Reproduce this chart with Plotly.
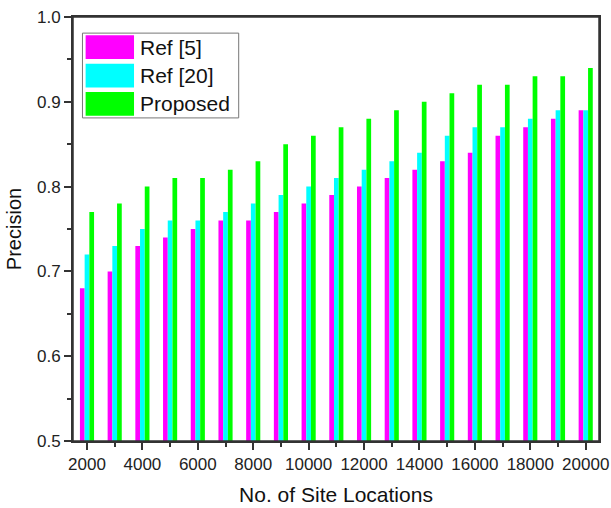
import plotly.graph_objects as go

sites = [2000, 3000, 4000, 5000, 6000, 7000, 8000, 9000, 10000, 11000,
         12000, 13000, 14000, 15000, 16000, 17000, 18000, 19000, 20000]
ref5 = [0.68, 0.70, 0.73, 0.74, 0.75, 0.76, 0.76, 0.77, 0.78, 0.79,
        0.80, 0.81, 0.82, 0.83, 0.84, 0.86, 0.87, 0.88, 0.89]
ref20 = [0.72, 0.73, 0.75, 0.76, 0.76, 0.77, 0.78, 0.79, 0.80, 0.81,
         0.82, 0.83, 0.84, 0.86, 0.87, 0.87, 0.88, 0.89, 0.89]
proposed = [0.77, 0.78, 0.80, 0.81, 0.81, 0.82, 0.83, 0.85, 0.86, 0.87,
            0.88, 0.89, 0.90, 0.91, 0.92, 0.92, 0.93, 0.93, 0.94]
series_names = ["Ref [5]", "Ref [20]", "Proposed"]
colors = ["#FF00FF", "#00FFFF", "#00FF00"]

fig = go.Figure()
for name, vals, c in zip(series_names, [ref5, ref20, proposed], colors):
    fig.add_trace(go.Bar(x=sites, y=vals, name=name, marker_color=c,
                         marker_line_width=0, showlegend=False))

font = "Arial, Liberation Sans, sans-serif"
axis_common = dict(showline=True, linecolor="#333333", linewidth=2, mirror=True,
                   ticks="outside", tickcolor="#333333", showgrid=False, zeroline=False,
                   automargin=False, layer="above traces",
                   tickfont=dict(family=font, size=17, color="#222222"))

fig.update_layout(
    width=611, height=508,
    paper_bgcolor="white", plot_bgcolor="white",
    margin=dict(l=73, r=12, t=17, b=67),
    barmode="group", bargap=0.49, bargroupgap=0,
    font=dict(family=font, color="#222222"),
    xaxis=dict(range=[1495, 20480], tickmode="linear", tick0=2000, dtick=2000,
               tickformat="d", ticklen=7, tickwidth=1.5,
               minor=dict(ticks="outside", dtick=1000, tick0=1000, ticklen=4,
                          tickwidth=1.5, tickcolor="#333333"),
               title=dict(text="No. of Site Locations", font=dict(family=font, size=21, color="#111111"),
                          standoff=14),
               **axis_common),
    yaxis=dict(range=[0.5, 1.0], tickmode="linear", tick0=0.5, dtick=0.1,
               tickformat=".1f", ticklen=7, tickwidth=1.5,
               minor=dict(ticks="outside", dtick=0.05, ticklen=4,
                          tickwidth=1.5, tickcolor="#333333"),
               title=dict(text="Precision", font=dict(family=font, size=20, color="#111111"),
                          standoff=10),
               **axis_common),
)

# frame around the plot area
fig.add_shape(type="rect", xref="paper", yref="paper", x0=0, x1=1, y0=0, y1=1,
              line=dict(color="#333333", width=1.5), layer="above")

# custom legend box matching the reference
lx0, lx1, ly_top, ly_bot = 0.018, 0.315, 0.962, 0.762
fig.add_shape(type="rect", xref="paper", yref="paper", x0=lx0, x1=lx1, y0=ly_bot, y1=ly_top,
              line=dict(color="#777777", width=1), fillcolor="white")
row_h = (ly_top - ly_bot) / 3
for i, (name, c) in enumerate(zip(series_names, colors)):
    yc = ly_top - row_h * (i + 0.5)
    fig.add_shape(type="rect", xref="paper", yref="paper",
                  x0=lx0 + 0.006, x1=lx0 + 0.098, y0=yc - row_h * 0.42, y1=yc + row_h * 0.42,
                  line=dict(width=0), fillcolor=c)
    fig.add_annotation(xref="paper", yref="paper", x=lx0 + 0.106, y=yc, text=name,
                       showarrow=False, xanchor="left", yanchor="middle",
                       font=dict(family=font, size=21, color="#111111"))

fig.write_html("out.html", config={"displayModeBar": False})

# remove the default browser body margin so the figure sits at the page origin
with open("out.html", "r", encoding="utf-8") as f:
    html = f.read()
html = html.replace("<body>", '<body style="margin:0;padding:0;overflow:hidden">', 1)
with open("out.html", "w", encoding="utf-8") as f:
    f.write(html)
